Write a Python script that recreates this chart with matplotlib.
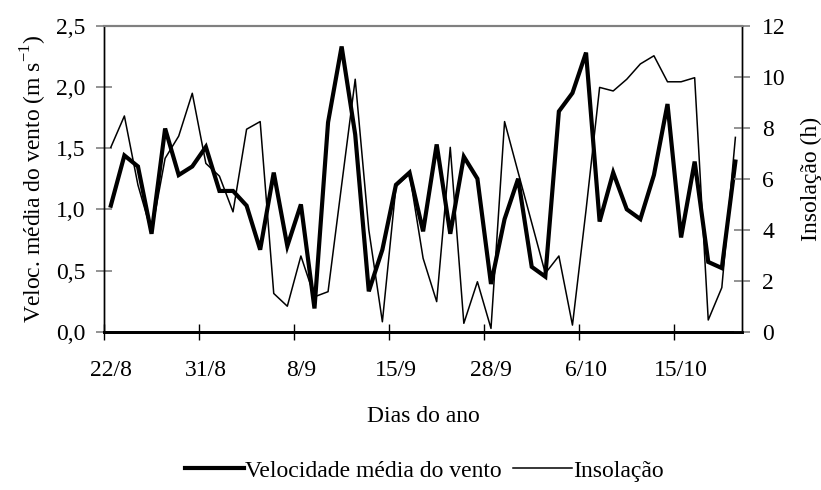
import matplotlib
matplotlib.use('Agg')
import matplotlib.pyplot as plt
import numpy as np

plt.rcParams['font.family'] = ['Liberation Serif', 'DejaVu Serif']
plt.rcParams['mathtext.fontset'] = 'custom'
plt.rcParams['mathtext.rm'] = 'Liberation Serif'
plt.rcParams['font.size'] = 17

# dados (47 dias)
vento = [1.03, 1.44, 1.35, 0.80, 1.66, 1.28, 1.35, 1.51, 1.15, 1.15,
         1.03, 0.67, 1.30, 0.70, 1.04, 0.19, 1.71, 2.33, 1.61, 0.33,
         0.67, 1.20, 1.30, 0.82, 1.53, 0.80, 1.43, 1.25, 0.39, 0.92,
         1.25, 0.53, 0.45, 1.80, 1.95, 2.28, 0.90, 1.30, 1.00, 0.92,
         1.28, 1.86, 0.77, 1.39, 0.57, 0.52, 1.39]
insolacao = [7.23, 8.46, 5.75, 3.90, 6.80, 7.67, 9.35, 6.60, 6.10, 4.70,
             7.94, 8.24, 1.50, 1.00, 2.97, 1.37, 1.57, 5.75, 9.90, 4.00,
             0.39, 5.69, 6.20, 2.88, 1.18, 7.23, 0.33, 1.96, 0.13, 8.24,
             6.25, 4.27, 2.29, 2.97, 0.26, 4.77, 9.58, 9.44, 9.90, 10.50,
             10.82, 9.80, 9.80, 9.96, 0.46, 1.73, 7.62]
rotulos = ['22/8', '31/8', '8/9', '15/9', '28/9', '6/10', '15/10']

x = np.arange(len(vento))
cinza = '#808080'

fig = plt.figure(figsize=(8.21, 4.90), dpi=100)
ax = fig.add_axes([0.1267, 0.323, 0.7773, 0.6246])
ax2 = ax.twinx()

l1, = ax.plot(x, vento, color='black', lw=3.0, solid_joinstyle='miter')
l2, = ax2.plot(x, insolacao, color='black', lw=1.1)

ax.set_xlim(-0.5, len(vento) - 0.5)
ax.set_ylim(0, 2.5)
ax2.set_ylim(0, 12)

ax.set_yticks(np.arange(0, 2.51, 0.5))
ax.set_yticklabels([('%.1f' % v).replace('.', ',') for v in np.arange(0, 2.51, 0.5)])
ax2.set_yticks(np.arange(0, 13, 2))

# rotulos a cada 7 dias, marcas entre as categorias
ax.set_xticks(np.arange(0, len(vento), 7))
ax.set_xticklabels(rotulos)
ax.set_xticks(np.arange(-0.5, len(vento) - 1, 7), minor=True)
ax.tick_params(axis='x', which='major', length=0, pad=20)
ax.tick_params(axis='x', which='minor', direction='inout', length=11, width=1, color='black')
ax.tick_params(axis='y', direction='inout', length=11, width=1.2, color=cinza, pad=8)
ax2.tick_params(axis='y', direction='inout', length=11, width=1.2, color=cinza, pad=9)

for a in (ax, ax2):
    a.spines['top'].set_color(cinza)
    a.spines['top'].set_linewidth(1.5)
    a.spines['left'].set_linewidth(1.0)
    a.spines['right'].set_linewidth(1.0)
    a.spines['bottom'].set_linewidth(2.0)

ax.set_xlabel('Dias do ano', labelpad=18)
ax.set_ylabel('Veloc. média do vento (m s$^{-1}$)', labelpad=5)
ax2.set_ylabel('Insolação (h)', labelpad=11)

fig.legend([l1, l2], ['Velocidade média do vento', 'Insolação'],
           loc='center', bbox_to_anchor=(0.517, 0.039), ncol=2, frameon=False,
           handlelength=2.5, handletextpad=0.05, columnspacing=0.5,
           borderpad=0, borderaxespad=0)

fig.savefig('out.png', dpi=100)
